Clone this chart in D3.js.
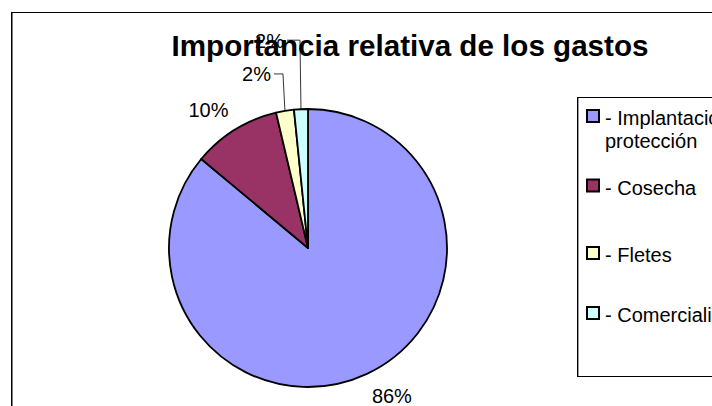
<!DOCTYPE html>
<html><head><meta charset="utf-8">
<script src="https://cdn.jsdelivr.net/npm/d3@7"></script>
<style>
body{margin:0;background:#fff;}
svg{display:block;font-family:"Liberation Sans",Arial,Helvetica,sans-serif;}
</style>
</head><body>
<svg id="c" width="712" height="406"></svg>
<script>
// ---- data ----
const categories = ["- Implantación y", "- Cosecha", "- Fletes", "- Comercialización"];
const categoryExtraLines = [["protección"], [], [], []];
const values = [86.06, 10.25, 2.08, 1.61];
const pctLabels = ["86%", "10%", "2%", "2%"];
const colors = ["#9999FF", "#993366", "#FFFFCC", "#CCFFFF"];
const titleText = "Importancia relativa de los gastos";

// ---- layout ----
const W = 712, H = 406;
const cx = 308, cy = 248, R = 139;
const fs = 20;
const svg = d3.select("#c");

// outer chart border (extends beyond right/bottom edge)
svg.append("rect").attr("x", 11.5).attr("y", 12.5).attr("width", 760).attr("height", 460)
  .attr("fill", "#fff").attr("stroke", "#000").attr("stroke-width", 1);
svg.append("line").attr("x1", 12.5).attr("x2", 12.5).attr("y1", 13).attr("y2", H)
  .attr("stroke", "#808080").attr("stroke-width", 1);

const pie = d3.pie().sort(null).value(d => d).startAngle(0).endAngle(2 * Math.PI);
const arcs = pie(values);
const arc = d3.arc().innerRadius(0).outerRadius(R);

const g = svg.append("g").attr("transform", `translate(${cx},${cy})`);
g.selectAll("path.slice").data(arcs).join("path")
  .attr("class", "slice")
  .attr("d", arc)
  .attr("fill", (d, i) => colors[i])
  .attr("stroke", "#000")
  .attr("stroke-width", 1.8)
  .attr("stroke-linejoin", "round");

// labels
const gap = 14;
const leaders = {2: {rise: 37, run: 9, dx: -2}, 3: {rise: 69, run: 13, dx: -1}};
const lab = svg.append("g").attr("font-size", fs + "px").attr("fill", "#000");
arcs.forEach((d, i) => {
  const a = (d.startAngle + d.endAngle) / 2;
  const s = Math.sin(a), c = Math.cos(a);
  if (leaders[i]) {
    const L = leaders[i];
    const px = cx + R * s, py = cy - R * c;
    const ex = px + L.dx, ey = py - L.rise;
    const tx = ex - L.run;
    svg.append("polyline")
      .attr("points", `${px},${py} ${ex},${ey} ${tx},${ey}`)
      .attr("fill", "none").attr("stroke", "#000").attr("stroke-width", 0.8);
    lab.append("text").attr("x", tx - 3).attr("y", ey + 7.5)
      .attr("text-anchor", "end").text(pctLabels[i]);
  } else {
    const px = cx + (R + gap) * s, py = cy - (R + gap) * c;
    lab.append("text")
      .attr("x", s >= 0 ? px - 1 : px + 1)
      .attr("y", c < 0 ? py + 0.716 * fs + 2.5 : py - 1)
      .attr("text-anchor", s >= 0 ? "start" : "end")
      .text(pctLabels[i]);
  }
});

// title
svg.append("text").attr("x", 410).attr("y", 56)
  .attr("text-anchor", "middle").attr("font-size", "29.6px").attr("font-weight", "bold")
  .attr("fill", "#000").text(titleText);

// legend
const legX = 577, legTop = 97, legBottom = 376;
svg.append("rect").attr("x", legX + 0.5).attr("y", legTop + 0.5)
  .attr("width", 200).attr("height", legBottom - legTop)
  .attr("fill", "#fff").attr("stroke", "#000").attr("stroke-width", 1);
svg.append("line").attr("x1", legX + 1.5).attr("x2", legX + 1.5).attr("y1", legTop + 1).attr("y2", legBottom)
  .attr("stroke", "#999").attr("stroke-width", 1);
const legBaselines = [125, 194.5, 262, 322];
const lineH = 23;
const lg = svg.append("g").attr("font-size", fs + "px");
categories.forEach((name, i) => {
  const by = legBaselines[i];
  lg.append("rect").attr("x", 587).attr("y", by - 15).attr("width", 12).attr("height", 12)
    .attr("fill", colors[i]).attr("stroke", "#000").attr("stroke-width", 2);
  lg.append("text").attr("x", 605).attr("y", by).text(name);
  categoryExtraLines[i].forEach((ln, k) => {
    lg.append("text").attr("x", 605).attr("y", by + lineH * (k + 1)).text(ln);
  });
});
</script>
</body></html>
